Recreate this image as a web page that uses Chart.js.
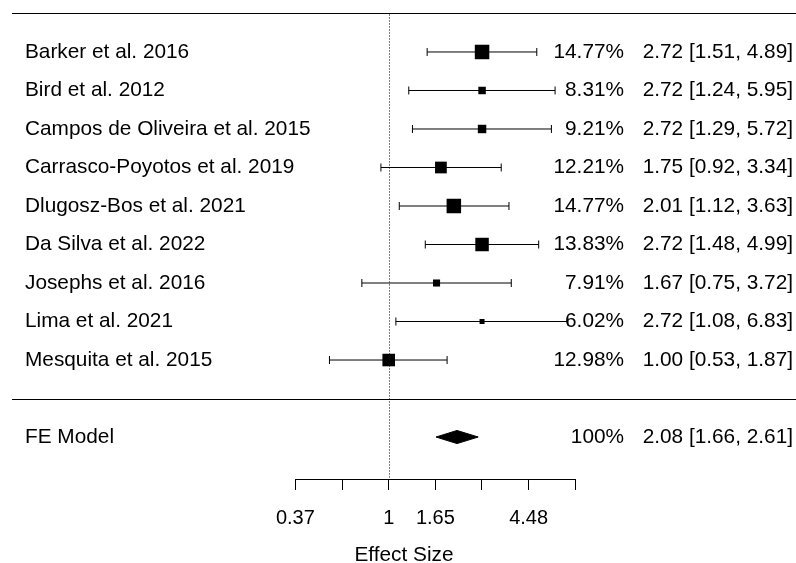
<!DOCTYPE html>
<html>
<head>
<meta charset="utf-8">
<script src="https://cdn.jsdelivr.net/npm/chart.js@4/dist/chart.umd.min.js"></script>
<style>
  html, body { margin: 0; padding: 0; background: #fff; }
  canvas { display: block; }
</style>
</head>
<body>
<canvas id="forest" width="796" height="563"></canvas>
<script>
// Study-level results (effect sizes on the ratio scale, with 95% CI and weights in %)
const studies = [
  "Barker et al. 2016",
  "Bird et al. 2012",
  "Campos de Oliveira et al. 2015",
  "Carrasco-Poyotos et al. 2019",
  "Dlugosz-Bos et al. 2021",
  "Da Silva et al. 2022",
  "Josephs et al. 2016",
  "Lima et al. 2021",
  "Mesquita et al. 2015"
];
const weights   = [14.77, 8.31, 9.21, 12.21, 14.77, 13.83, 7.91, 6.02, 12.98];
const estimates = [2.72, 2.72, 2.72, 1.75, 2.01, 2.72, 1.67, 2.72, 1.00];
const lower     = [1.51, 1.24, 1.29, 0.92, 1.12, 1.48, 0.75, 1.08, 0.53];
const upper     = [4.89, 5.95, 5.72, 3.34, 3.63, 4.99, 3.72, 6.83, 1.87];

// Fixed-effect summary
const pooledLabel = "FE Model";
const pooledWeight = "100%";
const pooledEstimate = 2.08;
const pooledLower = 1.66;
const pooledUpper = 2.61;

// Axis ticks (log scale positions) and their printed labels
const tickLogValues = [-1, -0.5, 0, 0.5, 1, 1.5, 2];
const tickLabels    = ["0.37", "", "1", "1.65", "", "4.48", ""];
const axisTitle = "Effect Size";

// Plot window in log units / row units
const XMIN = -4.0375, XMAX = 4.3655;
const YMIN = -2.09, YMAX = 10.35;

const FONT = '"Liberation Sans", Arial, sans-serif';
const TEXT_SIZE = 20.8;

const k = studies.length;
const rows = studies.map((_, i) => k - i);
const pooledRow = -1;

// Square size grows linearly with study weight
const wMin = Math.min(...weights), wMax = Math.max(...weights);
const sideFor = w => 5 + (w - wMin) / (wMax - wMin) * 9.5;

const datasets = [];

// Confidence-interval whiskers with end caps
studies.forEach((s, i) => {
  datasets.push({
    type: 'line',
    label: s,
    data: [{ x: Math.log(lower[i]), y: rows[i] }, { x: Math.log(upper[i]), y: rows[i] }],
    showLine: true,
    borderColor: '#000',
    borderWidth: 1,
    pointStyle: 'line',
    pointRotation: 90,
    pointRadius: 4,
    pointBorderColor: '#000',
    pointBorderWidth: 1,
    fill: false,
    order: 2
  });
});

// Point estimates as weighted squares
datasets.push({
  type: 'scatter',
  label: 'estimates',
  data: studies.map((s, i) => ({ x: Math.log(estimates[i]), y: rows[i] })),
  pointStyle: 'rect',
  pointRadius: weights.map(w => sideFor(w) / (2 * Math.SQRT1_2)),
  pointBackgroundColor: '#000',
  backgroundColor: '#000',
  pointBorderWidth: 0,
  order: 1
});

// Summary diamond
const dh = 0.17;
datasets.push({
  type: 'line',
  label: pooledLabel,
  data: [
    { x: Math.log(pooledLower), y: pooledRow },
    { x: Math.log(pooledEstimate), y: pooledRow + dh },
    { x: Math.log(pooledUpper), y: pooledRow },
    { x: Math.log(pooledEstimate), y: pooledRow - dh },
    { x: Math.log(pooledLower), y: pooledRow }
  ],
  showLine: true,
  borderColor: '#000',
  borderWidth: 1,
  backgroundColor: '#000',
  fill: 'shape',
  pointRadius: 0,
  tension: 0,
  order: 1
});

const fmt = v => v.toFixed(2);

const forestDecor = {
  id: 'forestDecor',
  beforeDatasetsDraw(chart) {
    const { ctx, chartArea: a, scales: { x, y } } = chart;
    ctx.save();
    ctx.strokeStyle = '#000';
    ctx.lineWidth = 1;
    // header rule and rule above the summary row
    [k + 1, 0].forEach(r => {
      const py = Math.round(y.getPixelForValue(r)) + 0.5;
      ctx.beginPath();
      ctx.moveTo(a.left, py);
      ctx.lineTo(a.right, py);
      ctx.stroke();
    });
    // axis baseline across the tick range
    const by = Math.round(a.bottom) + 0.5;
    ctx.beginPath();
    ctx.moveTo(Math.round(x.getPixelForValue(tickLogValues[0])) + 0.5, by);
    ctx.lineTo(Math.round(x.getPixelForValue(tickLogValues[tickLogValues.length - 1])) + 0.5, by);
    ctx.stroke();
    // dotted reference line at effect size 1
    const rx = Math.round(x.getPixelForValue(0)) + 0.5;
    ctx.setLineDash([1, 2]);
    ctx.beginPath();
    ctx.moveTo(rx, y.getPixelForValue(k + 1) + 1);
    ctx.lineTo(rx, a.bottom);
    ctx.stroke();
    ctx.restore();
  },
  afterDatasetsDraw(chart) {
    const { ctx, chartArea: a, scales: { y } } = chart;
    ctx.save();
    ctx.fillStyle = '#000';
    ctx.font = `${TEXT_SIZE}px ${FONT}`;
    ctx.textBaseline = 'middle';
    const labelX = a.left + 13;
    const pctX = a.right - 172;
    const estX = a.right - 3;
    studies.forEach((s, i) => {
      const py = y.getPixelForValue(rows[i]);
      ctx.textAlign = 'left';
      ctx.fillText(s, labelX, py);
      ctx.textAlign = 'right';
      ctx.fillText(fmt(weights[i]) + '%', pctX, py);
      ctx.fillText(`${fmt(estimates[i])} [${fmt(lower[i])}, ${fmt(upper[i])}]`, estX, py);
    });
    const py = y.getPixelForValue(pooledRow);
    ctx.textAlign = 'left';
    ctx.fillText(pooledLabel, labelX, py);
    ctx.textAlign = 'right';
    ctx.fillText(pooledWeight, pctX, py);
    ctx.fillText(`${fmt(pooledEstimate)} [${fmt(pooledLower)}, ${fmt(pooledUpper)}]`, estX, py);
    ctx.restore();
  }
};

new Chart(document.getElementById('forest'), {
  type: 'scatter',
  data: { datasets },
  options: {
    responsive: false,
    animation: false,
    events: [],
    devicePixelRatio: 1,
    layout: { autoPadding: false, padding: { left: 12, right: 0, top: 0, bottom: 0 } },
    plugins: { legend: { display: false }, tooltip: { enabled: false } },
    scales: {
      x: {
        type: 'linear',
        min: XMIN,
        max: XMAX,
        afterBuildTicks: s => { s.ticks = tickLogValues.map(v => ({ value: v })); },
        afterFit: s => { s.height = 84; },
        grid: { display: true, drawOnChartArea: false, drawTicks: true, tickLength: 11, color: '#000', lineWidth: 1 },
        border: { display: false },
        ticks: {
          autoSkip: false,
          maxRotation: 0,
          padding: 16,
          color: '#000',
          font: { family: FONT, size: 20 },
          callback: v => tickLabels[tickLogValues.indexOf(v)]
        },
        title: { display: true, text: axisTitle, color: '#000', font: { family: FONT, size: TEXT_SIZE }, padding: { top: 0, bottom: -5 } }
      },
      y: { type: 'linear', min: YMIN, max: YMAX, display: false }
    }
  },
  plugins: [forestDecor]
});
</script>
</body>
</html>
